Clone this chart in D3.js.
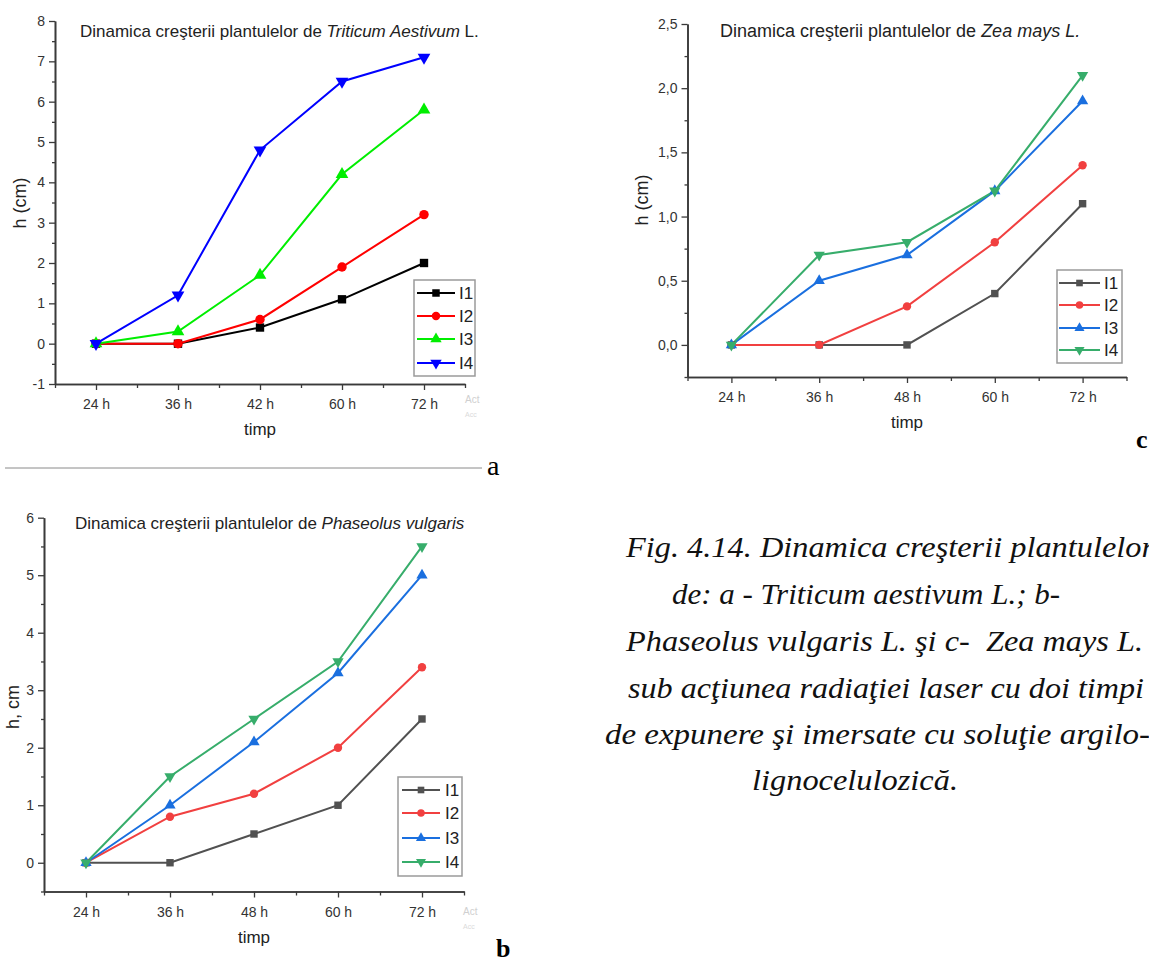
<!DOCTYPE html>
<html>
<head>
<meta charset="utf-8">
<script src="https://cdn.jsdelivr.net/npm/d3@7"></script>
<style>
  html, body { margin: 0; padding: 0; background: #fff; }
  svg { display: block; }
  .serif { font-family: "Liberation Serif", "Times New Roman", Tinos, Times, serif; }
  .sans { font-family: "Liberation Sans", Arial, Helvetica, sans-serif; }
</style>
</head>
<body>
<script>
// ---------------- DATA ----------------
const catsA = ["24 h", "36 h", "42 h", "60 h", "72 h"];
const catsB = ["24 h", "36 h", "48 h", "60 h", "72 h"];
const catsC = ["24 h", "36 h", "48 h", "60 h", "72 h"];
const seriesNames = ["I1", "I2", "I3", "I4"];

// a - Triticum aestivum
const aI1 = [0, 0, 0.4, 1.1, 2.0];
const aI2 = [0, 0, 0.6, 1.9, 3.2];
const aI3 = [0, 0.3, 1.7, 4.2, 5.8];
const aI4 = [0, 1.2, 4.8, 6.5, 7.1];

// b - Phaseolus vulgaris
const bI1 = [0, 0, 0.5, 1.0, 2.5];
const bI2 = [0, 0.8, 1.2, 2.0, 3.4];
const bI3 = [0, 1.0, 2.1, 3.3, 5.0];
const bI4 = [0, 1.5, 2.5, 3.5, 5.5];

// c - Zea mays
const cI1 = [0, 0, 0, 0.4, 1.1];
const cI2 = [0, 0, 0.3, 0.8, 1.4];
const cI3 = [0, 0.5, 0.7, 1.2, 1.9];
const cI4 = [0, 0.7, 0.8, 1.2, 2.1];

const yTicksA = [-1, 0, 1, 2, 3, 4, 5, 6, 7, 8];
const yTickLabelsA = ["-1", "0", "1", "2", "3", "4", "5", "6", "7", "8"];
const yTicksB = [0, 1, 2, 3, 4, 5, 6];
const yTickLabelsB = ["0", "1", "2", "3", "4", "5", "6"];
const yTicksC = [0, 0.5, 1.0, 1.5, 2.0, 2.5];
const yTickLabelsC = ["0,0", "0,5", "1,0", "1,5", "2,0", "2,5"];

const colorsA = ["#000000", "#ff0000", "#00ee00", "#0000ff"];
const colorsBC = ["#515151", "#f14040", "#1a6fdf", "#37ad6b"];

const captionLines = [
  "Fig. 4.14. Dinamica creşterii plantulelor",
  "de: a - Triticum aestivum L.; b-",
  "Phaseolus vulgaris L. şi c-\u00a0 Zea mays L.",
  "sub acţiunea radiaţiei laser cu doi timpi",
  "de expunere şi imersate cu soluţie argilo-",
  "lignocelulozică."
];

// ---------------- DRAW ----------------
const W = 1149, H = 963;
const svg = d3.select("body").append("svg").attr("width", W).attr("height", H);
svg.append("rect").attr("width", W).attr("height", H).attr("fill", "#fff");

const symbols = [d3.symbolSquare, d3.symbolCircle, d3.symbolTriangle, d3.symbolTriangle];

function drawPanel(cfg) {
  const g = svg.append("g").attr("class", "sans");
  const x = d3.scalePoint().domain(cfg.cats).range([cfg.x0, cfg.x1]).padding(0.5);
  const xi = d3.scaleLinear().domain([-0.5, cfg.cats.length - 0.5]).range([cfg.x0, cfg.x1]);
  const y = d3.scaleLinear().domain(cfg.yDomain).range([cfg.yBottom, cfg.yTop]);

  const axisColor = "#3a3a3a";

  const minorY = [];
  for (let v = cfg.yDomain[0]; v <= cfg.yDomain[1] + 1e-9; v += cfg.minorStep) {
    const r = Math.round(v * 1000) / 1000;
    if (!cfg.yTicks.some(t => Math.abs(t - r) < 1e-6)) minorY.push(r);
  }
  const gyMinor = g.append("g").attr("transform", `translate(${cfg.x0},0)`)
    .call(d3.axisLeft(y).tickValues(minorY).tickSize(3).tickFormat("").tickSizeOuter(0));
  const gy = g.append("g").attr("transform", `translate(${cfg.x0},0)`)
    .call(d3.axisLeft(y).tickValues(cfg.yTicks).tickSize(6).tickPadding(4)
      .tickSizeOuter(0)
      .tickFormat((d, i) => cfg.yLabels[i]));

  const minorX = d3.range(-0.5, cfg.cats.length, 1);
  const gxMinor = g.append("g").attr("transform", `translate(0,${cfg.yBottom})`)
    .call(d3.axisBottom(xi).tickValues(minorX).tickSize(4).tickFormat("").tickSizeOuter(0));
  const gx = g.append("g").attr("transform", `translate(0,${cfg.yBottom})`)
    .call(d3.axisBottom(x).tickSize(6).tickPadding(6).tickSizeOuter(0));

  [gy, gx, gyMinor, gxMinor].forEach(a => {
    a.attr("font-family", null).attr("font-size", null);
    a.selectAll("path.domain").attr("stroke", axisColor).attr("stroke-width", 1.6);
    a.selectAll(".tick line").attr("stroke", axisColor).attr("stroke-width", 1.3);
    a.selectAll(".tick text").attr("fill", "#333").attr("font-size", cfg.tickFont);
  });
  gx.selectAll(".tick text").attr("dy", null).attr("y", cfg.xLabelDy);

  const t = g.append("text").attr("x", cfg.titleX).attr("y", cfg.titleY)
    .attr("fill", "#222").attr("font-size", cfg.titleFont);
  t.append("tspan").text("Dinamica creşterii plantulelor de ");
  t.append("tspan").attr("font-style", "italic").text(cfg.titleItalic);
  if (cfg.titleTail) t.append("tspan").text(cfg.titleTail);

  g.append("text").attr("x", (cfg.x0 + cfg.x1) / 2).attr("y", cfg.timpY)
    .attr("text-anchor", "middle").attr("fill", "#222")
    .attr("font-size", 17).text("timp");

  g.append("text").attr("transform", `translate(${cfg.yLabX},${cfg.yLabY}) rotate(-90)`)
    .attr("text-anchor", "middle").attr("fill", "#222")
    .attr("font-size", 18).text(cfg.yTitle);

  const line = d3.line().x((d, i) => x(cfg.cats[i])).y(d => y(d));
  cfg.series.forEach((vals, si) => {
    g.append("path").datum(vals).attr("d", line).attr("fill", "none")
      .attr("stroke", cfg.colors[si]).attr("stroke-width", 2);
  });
  cfg.series.forEach((vals, si) => {
    g.selectAll(null).data(vals).enter().append("path")
      .attr("d", d3.symbol().type(symbols[si]).size(cfg.markerSize))
      .attr("transform", (d, i) => `translate(${x(cfg.cats[i])},${y(d)})${si === 3 ? " rotate(180)" : ""}`)
      .attr("fill", cfg.colors[si]);
  });

  const L = cfg.legend;
  g.append("rect").attr("x", L.x).attr("y", L.y).attr("width", L.w).attr("height", L.h)
    .attr("fill", "#fff").attr("stroke", "#9a9a9a").attr("stroke-width", 1.5);
  seriesNames.forEach((name, si) => {
    const yy = L.rows[si];
    g.append("line").attr("x1", L.lx1).attr("x2", L.lx2).attr("y1", yy).attr("y2", yy)
      .attr("stroke", cfg.colors[si]).attr("stroke-width", 2);
    g.append("path").attr("d", d3.symbol().type(symbols[si]).size(cfg.markerSize * 0.8))
      .attr("transform", `translate(${(L.lx1 + L.lx2) / 2},${yy})${si === 3 ? " rotate(180)" : ""}`)
      .attr("fill", cfg.colors[si]);
    g.append("text").attr("x", L.tx).attr("y", yy + 6).attr("fill", "#222")
      .attr("font-size", L.font).text(name);
  });

  if (cfg.wm) {
    g.append("text").attr("x", cfg.wm[0]).attr("y", cfg.wm[1]).attr("fill", "#d0d0d0")
      .attr("font-size", 10).text("Act");
    g.append("text").attr("x", cfg.wm[0]).attr("y", cfg.wm[1] + 14).attr("fill", "#dadada")
      .attr("font-size", 7).text("Acc");
  }
}

drawPanel({
  cats: catsA, series: [aI1, aI2, aI3, aI4], colors: colorsA,
  x0: 55, x1: 465, yTop: 21, yBottom: 384, yDomain: [-1, 8], minorStep: 0.5,
  yTicks: yTicksA, yLabels: yTickLabelsA, tickFont: 14, xLabelDy: 25,
  titleX: 80, titleY: 37, titleFont: 17, titleItalic: "Triticum Aestivum", titleTail: " L.",
  timpY: 435, yLabX: 26, yLabY: 203, yTitle: "h (cm)", markerSize: 70,
  legend: { x: 414, y: 280, w: 61, h: 96, rows: [293, 316, 339, 363], lx1: 417, lx2: 455, tx: 459, font: 17 },
  wm: [465, 403]
});

drawPanel({
  cats: catsB, series: [bI1, bI2, bI3, bI4], colors: colorsBC,
  x0: 44, x1: 464, yTop: 517.7, yBottom: 891.5, yDomain: [-0.5, 6], minorStep: 0.5,
  yTicks: yTicksB, yLabels: yTickLabelsB, tickFont: 14, xLabelDy: 25,
  titleX: 75, titleY: 529, titleFont: 17, titleItalic: "Phaseolus vulgaris", titleTail: "",
  timpY: 943, yLabX: 19, yLabY: 707, yTitle: "h, cm", markerSize: 55,
  legend: { x: 398, y: 777, w: 64, h: 99, rows: [790, 813, 838, 862], lx1: 402, lx2: 440, tx: 445, font: 17 },
  wm: [463, 915]
});

drawPanel({
  cats: catsC, series: [cI1, cI2, cI3, cI4], colors: colorsBC,
  x0: 687.5, x1: 1126.5, yTop: 24, yBottom: 377, yDomain: [-0.25, 2.5], minorStep: 0.25,
  yTicks: yTicksC, yLabels: yTickLabelsC, tickFont: 14, xLabelDy: 25,
  titleX: 720, titleY: 37, titleFont: 18, titleItalic: "Zea mays L.", titleTail: "",
  timpY: 428, yLabX: 648, yLabY: 200, yTitle: "h (cm)", markerSize: 55,
  legend: { x: 1057, y: 270, w: 65, h: 93, rows: [283, 305, 328, 350], lx1: 1059, lx2: 1100, tx: 1104, font: 17 },
  wm: null
});

// separator line & panel letters
svg.append("line").attr("x1", 5).attr("x2", 482).attr("y1", 468).attr("y2", 468)
  .attr("stroke", "#8a8a8a").attr("stroke-width", 1);
svg.append("text").attr("class", "serif").attr("x", 487).attr("y", 475)
  .attr("font-size", 28).attr("fill", "#000").text("a");
svg.append("text").attr("class", "serif").attr("x", 496).attr("y", 957)
  .attr("font-size", 26).attr("font-weight", "bold").attr("fill", "#000").text("b");
svg.append("text").attr("class", "serif").attr("x", 1136).attr("y", 448)
  .attr("font-size", 26).attr("font-weight", "bold").attr("fill", "#000").text("c");

// caption (line start, width, baseline)
const capX = [626, 672, 626, 628, 605, 752];
const capW = [528, 388, 517, 516, 545, 206];
const capBase = [557, 604, 651, 698, 744, 790];
captionLines.forEach((ln, i) => {
  svg.append("text").attr("class", "serif")
    .attr("x", capX[i]).attr("y", capBase[i]).attr("fill", "#111")
    .attr("font-style", "italic").attr("font-size", 29)
    .attr("textLength", capW[i]).attr("lengthAdjust", "spacingAndGlyphs")
    .text(ln);
});
</script>
</body>
</html>
